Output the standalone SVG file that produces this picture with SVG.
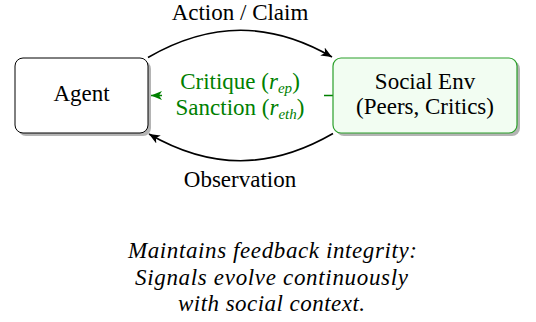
<svg xmlns="http://www.w3.org/2000/svg" width="536" height="322" viewBox="0 0 536 322">
  <defs>
    <marker id="stealth" markerUnits="userSpaceOnUse" markerWidth="12" markerHeight="10" refX="11" refY="5" orient="auto">
      <path d="M0,0.5 L11,5 L0,9.5 L3,5 z" fill="#000"/>
    </marker>
    <marker id="stealth-green" markerUnits="userSpaceOnUse" markerWidth="12" markerHeight="10" refX="11" refY="5" orient="auto">
      <path d="M0,0.5 L11,5 L0,9.5 L3,5 z" fill="#008000"/>
    </marker>
  </defs>
  <style>
    text { font-family: "Liberation Serif", "Times New Roman", Tinos, "DejaVu Serif", serif; font-size: 23px; fill: #000; text-anchor: middle; }
    .shadow { fill: #b4b4b4; }
    .agent { fill: #fff; stroke: #000; stroke-width: 1; }
    .env { fill: #f2fdf2; stroke: #2aa02a; stroke-width: 1.2; }
    .arc { fill: none; stroke: #000; stroke-width: 1.6; }
    .signal { fill: none; stroke: #008000; stroke-width: 1.6; }
    .green { fill: #008000; }
    .note { font-style: italic; }
  </style>

  <!-- connectors -->
  <g id="connectors">
    <path class="arc" d="M148,57.5 C210.7,21.3 270.3,21.3 332,57" marker-end="url(#stealth)"/>
    <path class="arc" d="M333,133.5 C270.3,169.7 210.7,169.7 149,134" marker-end="url(#stealth)"/>
    <line class="signal" x1="333" y1="95.5" x2="151" y2="95.5" marker-end="url(#stealth-green)"/>
    <text x="240" y="20">Action / Claim</text>
    <text x="240" y="187">Observation</text>
    <g id="feedback-label">
      <rect x="162" y="68" width="162" height="56" fill="#fff"/>
      <text class="green" x="240" y="89">Critique (<tspan font-style="italic">r</tspan><tspan font-style="italic" font-size="15" dy="4">ep</tspan><tspan dy="-4">)</tspan></text>
      <text class="green" x="240" y="115">Sanction (<tspan font-style="italic">r</tspan><tspan font-style="italic" font-size="15" dy="4">eth</tspan><tspan dy="-4">)</tspan></text>
    </g>
  </g>

  <!-- agent node -->
  <g id="agent">
    <rect class="shadow" x="18" y="61" width="133" height="75" rx="8"/>
    <rect class="agent" x="15" y="58" width="133" height="75" rx="8"/>
    <text x="81.5" y="101">Agent</text>
  </g>

  <!-- social environment node -->
  <g id="social-env">
    <rect class="shadow" x="336" y="61" width="184" height="75" rx="8"/>
    <rect class="env" x="333" y="58" width="184" height="75" rx="8"/>
    <text x="425" y="88.5">Social Env</text>
    <text x="425" y="113.5">(Peers, Critics)</text>
  </g>

  <!-- caption -->
  <g id="note">
    <text class="note" x="272.5" y="258" textLength="289" lengthAdjust="spacing">Maintains feedback integrity:</text>
    <text class="note" x="271.5" y="284.5" textLength="273" lengthAdjust="spacing">Signals evolve continuously</text>
    <text class="note" x="271.5" y="311" textLength="187" lengthAdjust="spacing">with social context.</text>
  </g>
</svg>
